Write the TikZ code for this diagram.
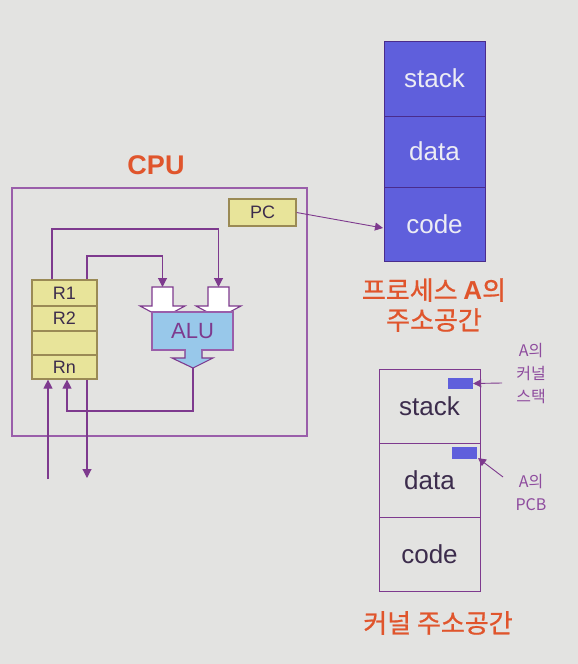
\documentclass[tikz,border=0pt]{standalone}
\usepackage{fontspec}
\setmainfont{Liberation Sans}
\newfontfamily\kr{Noto Sans CJK KR}
\newfontfamily\krb[FakeBold=0.8]{Noto Sans CJK KR}
\usetikzlibrary{arrows.meta}
\definecolor{bg}{HTML}{E3E3E1}
\definecolor{orng}{HTML}{E0552C}
\definecolor{purp}{HTML}{7E3A8E}
\definecolor{dpurp}{HTML}{4A2C8C}
\definecolor{lpurp}{HTML}{9A5EAA}
\definecolor{ylw}{HTML}{E8E49A}
\definecolor{olive}{HTML}{9A8A55}
\definecolor{alub}{HTML}{98C8EA}
\definecolor{blu}{HTML}{5F5FDC}
\definecolor{txtw}{HTML}{ECECF4}
\definecolor{txtd}{HTML}{3C2C4C}
\definecolor{labp}{HTML}{8E4C9E}
\begin{document}
\begin{tikzpicture}[x=1pt,y=-1pt,
  reg/.style={draw=olive,line width=1.2pt,fill=ylw,minimum width=65pt,inner sep=0pt,font=\fontsize{18}{20}\selectfont,text=txtd},
  pcell/.style={draw=dpurp,line width=1pt,fill=blu,minimum width=101pt,inner sep=0pt,font=\fontsize{26}{28}\selectfont,text=txtw},
  kcell/.style={draw=purp,line width=1pt,minimum width=101pt,minimum height=74pt,inner sep=0pt,font=\fontsize{26}{28}\selectfont,text=txtd},
  wire/.style={draw=purp,line width=1.1pt},
  arr/.style={wire,-{Triangle[length=9pt,width=9pt]}},
  thinarr/.style={draw=purp,line width=0.9pt,-{Triangle[length=8pt,width=8pt]}},
  otitle/.style={text=orng,inner sep=0pt,align=center},
  small/.style={text=labp,inner sep=0pt,align=center,font=\kr\fontsize{16}{23}\selectfont},
  mini/.style={fill=blu,draw=none,inner sep=0pt}]
\fill[bg] (0,0) rectangle (578,664);
% CPU
\node[draw=lpurp,line width=1.2pt,minimum width=295pt,minimum height=248pt,inner sep=0pt] (cpu) at (159.5,312) {};
\node[otitle,font=\bfseries\fontsize{27}{29}\selectfont] (cputitle) at (156,165) {CPU};
\node[reg,minimum width=67pt,minimum height=27pt] (pc) at (262.5,212.5) {PC};
\node[reg,minimum height=26pt] (r1) at (64.5,293) {R1};
\node[reg,minimum height=25pt] (r2) at (64.5,318.5) {R2};
\node[reg,minimum height=24pt] (rb) at (64.5,343) {};
\node[reg,minimum height=24pt] (rn) at (64.5,367) {Rn};
% ALU inputs
\path[wire,fill=white] (152,287) -- (152,306) -- (140,306) -- (162.5,318) -- (185,306) -- (173,306) -- (173,287) -- cycle;
\path[wire,fill=white] (208,287) -- (208,306) -- (196,306) -- (218.5,318) -- (241,306) -- (229,306) -- (229,287) -- cycle;
\coordinate (inL) at (162.5,287);
\coordinate (inR) at (218.5,287);
% ALU output arrow
\path[wire,fill=alub] (185,348) -- (185,358) -- (172,358) -- (193,368) -- (213,358) -- (202,358) -- (202,348);
\node[draw=lpurp,line width=1.2pt,fill=alub,minimum width=81pt,minimum height=38pt,inner sep=0pt,font=\fontsize{22}{24}\selectfont,text=purp] (alu) at (192.5,331) {ALU};
\fill[alub] (186,349) rectangle (201,352);
\coordinate (aluout) at (193,368);
% wires
\coordinate (w1) at (52,229);
\coordinate (w2) at (87,256);
\draw[arr] (r1.north -| w1) -- (w1) -| (inR);
\draw[arr] (r1.north -| w2) -- (w2) -| (inL);
\coordinate (fb) at (67,411);
\draw[arr] (aluout) |- (fb) -- (fb |- rn.south);
\coordinate (inbot) at (48,479);
\draw[arr] (inbot) -- (inbot |- rn.south);
\coordinate (outbot) at (87,478);
\draw[arr] (outbot |- rn.south) -- (outbot);
% Process A address space
\node[pcell,minimum height=75pt] (pstack) at (434.5,78.5) {stack};
\node[pcell,minimum height=71pt] (pdata) at (434.5,151.5) {data};
\node[pcell,minimum height=74pt] (pcode) at (434.5,224) {code};
\coordinate (pctgt) at (383,228);
\draw[thinarr] (pc.east) -- (pctgt);
\node[otitle,font=\krb\fontsize{26}{30}\selectfont] (ptitle) at (434,305) {프로세스 {\bfseries\rmfamily A}의\\주소공간};
% Kernel address space
\node[kcell] (kstack) at (429.5,406) {stack};
\node[kcell] (kdata) at (429.5,480) {data};
\node[kcell] (kcode) at (429.5,554) {code};
\node[mini,minimum width=25pt,minimum height=11pt] (ks) at (460.5,383.5) {};
\node[mini,minimum width=25pt,minimum height=12pt] (kd) at (464.5,453) {};
\node[small] (lab1) at (531,374) {A의\\커널\\스택};
\node[small] (lab2) at (531,492) {A의\\PCB};
\coordinate (a1) at (502,383);
\draw[thinarr] (a1) -- (ks.east);
\coordinate (a2) at (503,477);
\coordinate (a2t) at (478,458);
\draw[thinarr] (a2) -- (a2t);
\node[otitle,font=\krb\fontsize{26}{30}\selectfont] (ktitle) at (438,623) {커널 주소공간};
\end{tikzpicture}
\end{document}
